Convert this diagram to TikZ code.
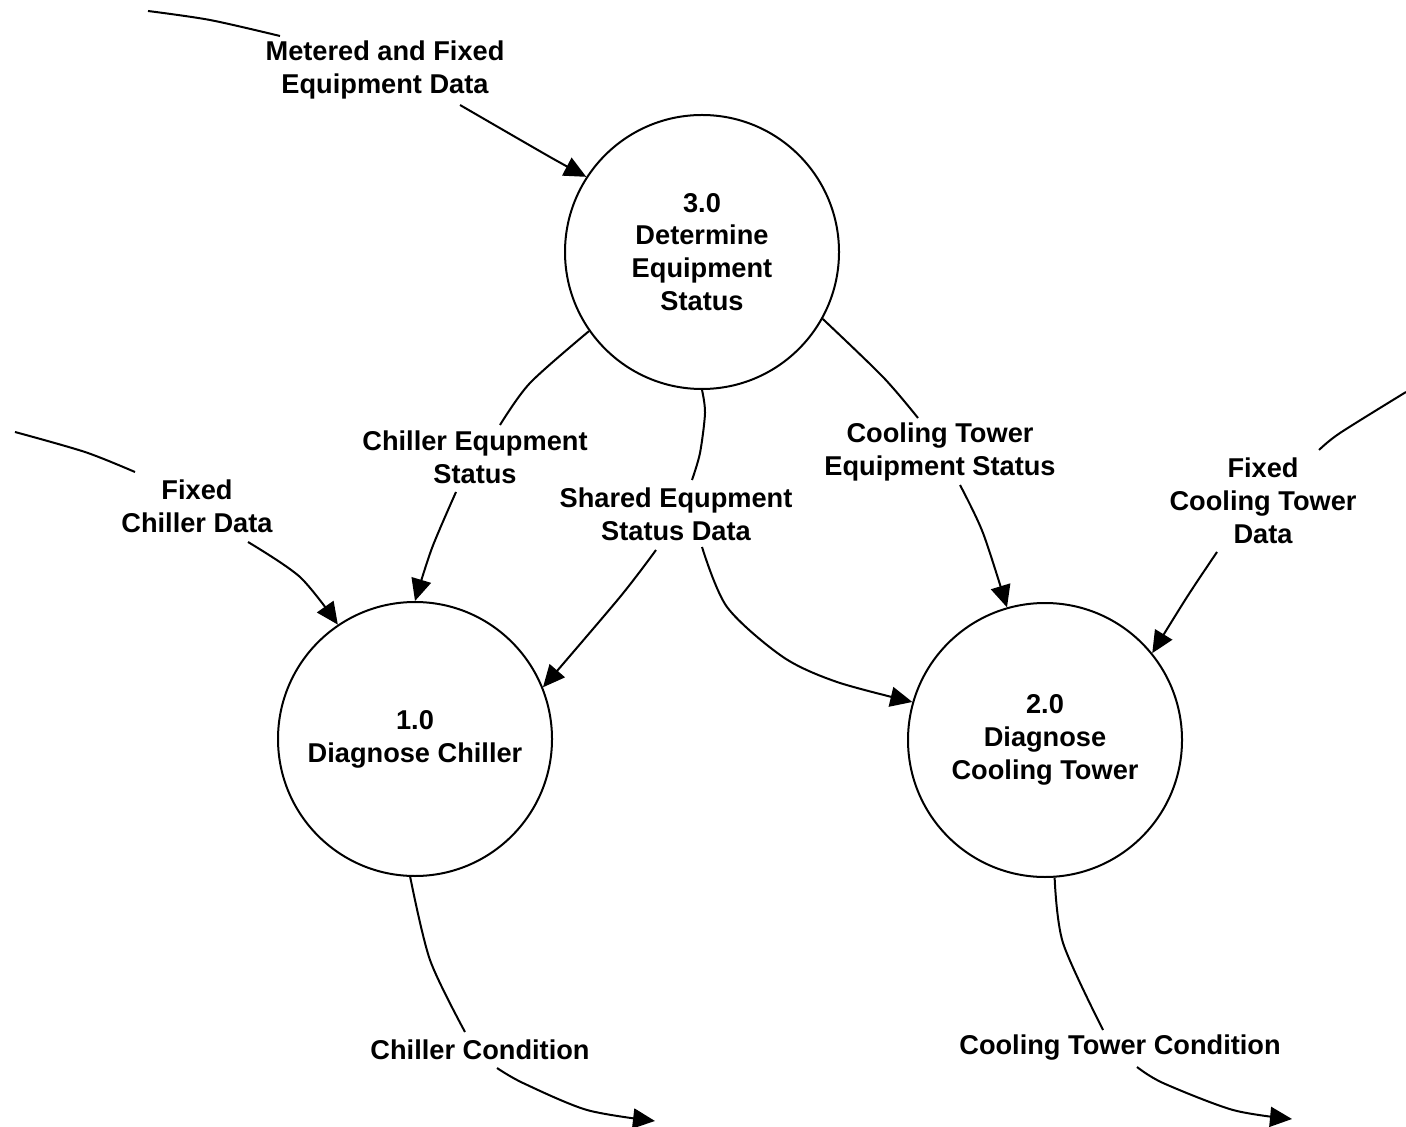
\documentclass[tikz,border=0pt]{standalone}
\usepackage{fontspec}
\setmainfont{Liberation Sans}
\usetikzlibrary{arrows.meta}
\newcommand\dfdfont{\fontsize{13.6}{16.4}\selectfont\bfseries}
\begin{document}
\begin{tikzpicture}[x=0.5pt,y=-0.5pt,
  proc/.style={draw, circle, minimum size=137pt, inner sep=0pt, line width=1pt, align=center, font=\dfdfont},
  lab/.style={align=center, font=\dfdfont, inner sep=0pt},
  flow/.style={line width=1pt, line join=round},
  flowarr/.style={flow, -{Triangle[length=11pt,width=10pt]}}]
\useasboundingbox (0,0) rectangle (1406,1127);

% processes
\node[proc] (c3) at (702,252) {3.0\\Determine\\Equipment\\Status};
\node[proc] (c1) at (415,739) {1.0\\Diagnose Chiller};
\node[proc] (c2) at (1045,740) {2.0\\Diagnose\\Cooling Tower};

% labels
\node[lab] (lmet) at (385,70) {Metered and Fixed\\Equipment Data};
\node[lab] (lfch) at (197,506) {Fixed\\Chiller Data};
\node[lab] (lces) at (475,457) {Chiller Equpment\\Status};
\node[lab] (lsh)  at (676,514) {Shared Equpment\\Status Data};
\node[lab] (lcte) at (940,452) {Cooling Tower\\Equipment Status};
\node[lab] (lfct) at (1263,501) {Fixed\\Cooling Tower\\Data};
\node[lab] (lcc)  at (480,1050) {Chiller Condition};
\node[lab] (ltc)  at (1120,1048) {Cooling Tower Condition};

% connector coordinates
\coordinate (m0) at (148,11);   \coordinate (m1) at (280,36);  \coordinate (m2) at (460,105);
\coordinate (f0) at (15,432);   \coordinate (f1) at (135,472); \coordinate (f2) at (248,542);
\coordinate (ce1) at (500,425); \coordinate (ce2) at (456,492);
\coordinate (s1) at (692,480);  \coordinate (s2) at (656,550); \coordinate (s3) at (702,547);
\coordinate (t1) at (918,418);  \coordinate (t2) at (960,485);
\coordinate (k0) at (1406,392); \coordinate (k1) at (1319,450); \coordinate (k2) at (1217,552);
\coordinate (cc1) at (465,1032); \coordinate (cc2) at (497,1068); \coordinate (cc3) at (655,1121);
\coordinate (tc1) at (1103,1030); \coordinate (tc2) at (1137,1067); \coordinate (tc3) at (1292,1119);

% Metered and Fixed Equipment Data
\draw[flow] plot[smooth, tension=0.5] coordinates {(m0) (210,20) (m1)};
\draw[flowarr] plot[smooth, tension=0.5] coordinates {(m2) (550,157) (c3.147)};
% Fixed Chiller Data
\draw[flow] plot[smooth, tension=0.5] coordinates {(f0) (85,452) (f1)};
\draw[flowarr] plot[smooth, tension=0.5] coordinates {(f2) (300,577) (c1.124)};
% Chiller Equipment Status
\draw[flow] plot[smooth, tension=0.5] coordinates {(c3.215) (530,383) (ce1)};
\draw[flowarr] plot[smooth, tension=0.5] coordinates {(ce2) (432,548) (c1.90)};
% Shared Equipment Status Data
\draw[flow] plot[smooth, tension=0.5] coordinates {(c3.270) (705,413) (700,453) (s1)};
\draw[flowarr] plot[smooth, tension=0.5] coordinates {(s2) (620,597) (c1.22)};
\draw[flowarr] plot[smooth, tension=0.5] coordinates {(s3) (727,607) (783,657) (837,682) (c2.164)};
% Cooling Tower Equipment Status
\draw[flow] plot[smooth, tension=0.5] coordinates {(c3.331) (883,377) (t1)};
\draw[flowarr] plot[smooth, tension=0.5] coordinates {(t2) (983,533) (c2.106)};
% Fixed Cooling Tower Data
\draw[flow] plot[smooth, tension=0.5] coordinates {(k0) (1340,433) (k1)};
\draw[flowarr] plot[smooth, tension=0.5] coordinates {(k2) (1187,597) (c2.39)};
% Chiller Condition
\draw[flow] plot[smooth, tension=0.5] coordinates {(c1.268) (430,960) (cc1)};
\draw[flowarr] plot[smooth, tension=0.5] coordinates {(cc2) (523,1083) (587,1110) (cc3)};
% Cooling Tower Condition
\draw[flow] plot[smooth, tension=0.5] coordinates {(c2.274) (1063,943) (tc1)};
\draw[flowarr] plot[smooth, tension=0.5] coordinates {(tc2) (1163,1083) (1233,1110) (tc3)};
\end{tikzpicture}
\end{document}
